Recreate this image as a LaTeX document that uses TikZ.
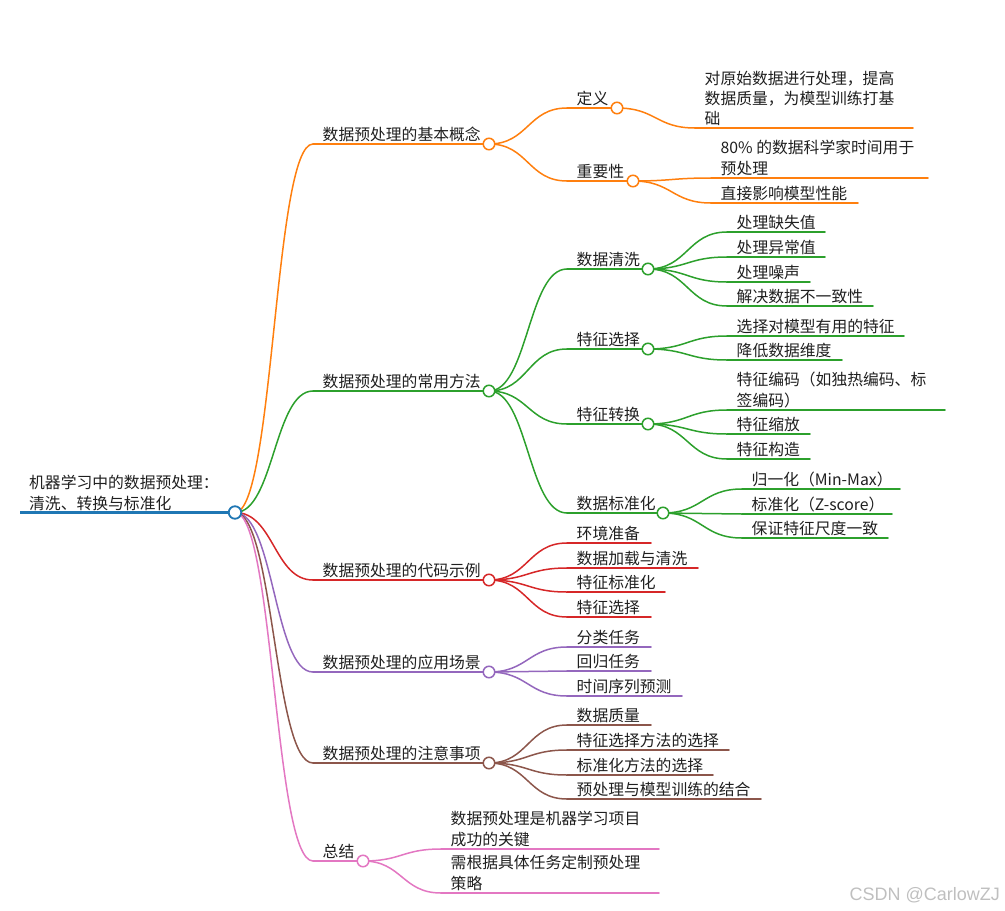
\documentclass[tikz,border=0pt]{standalone}
\usepackage{fontspec}
\newfontfamily\cjk{Noto Sans CJK SC}
\newfontfamily\wmfont{Liberation Sans}
\usetikzlibrary{calc}
\definecolor{cblue}{HTML}{1F77B4}
\definecolor{corange}{HTML}{FF7F0E}
\definecolor{cgreen}{HTML}{2CA02C}
\definecolor{cred}{HTML}{D62728}
\definecolor{cpurple}{HTML}{9467BD}
\definecolor{cbrown}{HTML}{8C564B}
\definecolor{cpink}{HTML}{E377C2}
\tikzset{
  lbl/.style={font=\cjk\fontsize{15.8}{20.5}\selectfont, text=black!88, inner sep=0pt, anchor=base west},
  br/.style={draw=#1, line width=1.5pt, line cap=round},
  dot/.style={circle, draw=#1, fill=white, line width=1.5pt, minimum size=11.5pt, inner sep=0pt},
  wm/.style={font=\wmfont\fontsize{18}{20}\selectfont, text=black!25, inner sep=0pt, anchor=base east},
}
\newcommand\mmlink[3]{\draw[br=#1] let \p1=(#2), \p2=(#3) in (\p1) .. controls ({(\x1+\x2)/2},\y1) and ({(\x1+\x2)/2},\y2) .. (\p2);}
% color, name, startx, y, endx, text
\newcommand\mmleaf[6]{\coordinate (#2s) at (#3,#4); \coordinate (#2e) at (#5,#4);
  \draw[br=#1] (#2s) -- (#2e); \node[lbl] (#2) at ($(#2s)+(9.5,-4)$) {#6};}
\newcommand\mmleafii[7]{\coordinate (#2s) at (#3,#4); \coordinate (#2e) at (#5,#4);
  \draw[br=#1] (#2s) -- (#2e); \node[lbl] (#2a) at ($(#2s)+(9.5,-24.5)$) {#6};
  \node[lbl] (#2b) at ($(#2s)+(9.5,-4)$) {#7};}
% color, name, startx, y, circlex, text
\newcommand\mmmid[6]{\coordinate (#2s) at (#3,#4); \coordinate (#2p) at (#5,#4);
  \draw[br=#1] (#2s) -- (#2p); \node[lbl] (#2) at ($(#2s)+(9.5,-4)$) {#6};}
\begin{document}
\begin{tikzpicture}[x=1pt,y=-1pt]
\useasboundingbox (0,0) rectangle (1005,911);
% root
\coordinate (rs) at (20,512.5);
\coordinate (rp) at (235,512.5);
\draw[draw=cblue, line width=2.4pt] (rs) -- (rp);
\node[lbl] (rt1) at (29,488) {机器学习中的数据预处理：};
\node[lbl] (rt2) at (29,509) {清洗、转换与标准化};

% level 1
\mmmid{corange}{a}{313}{144}{489}{数据预处理的基本概念}
\mmmid{cgreen}{b}{313}{391}{489}{数据预处理的常用方法}
\mmmid{cred}{c}{313}{580}{489}{数据预处理的代码示例}
\mmmid{cpurple}{d}{313}{672}{489}{数据预处理的应用场景}
\mmmid{cbrown}{e}{313}{763}{489}{数据预处理的注意事项}
\mmmid{cpink}{f}{313}{861}{363}{总结}
\mmlink{corange}{rp}{as}
\mmlink{cgreen}{rp}{bs}
\mmlink{cred}{rp}{cs}
\mmlink{cpurple}{rp}{ds}
\mmlink{cbrown}{rp}{es}
\mmlink{cpink}{rp}{fs}

% A: basic concepts
\mmmid{corange}{aa}{567}{108}{617}{定义}
\mmmid{corange}{ab}{567}{181}{633}{重要性}
\mmlink{corange}{ap}{aas}
\mmlink{corange}{ap}{abs}
\coordinate (aaas) at (695,128); \coordinate (aaae) at (913,128);
\draw[br=corange] (aaas) -- (aaae);
\node[lbl] (aaa1) at ($(aaas)+(9.5,-44)$) {对原始数据进行处理，提高};
\node[lbl] (aaa2) at ($(aaas)+(9.5,-24)$) {数据质量，为模型训练打基};
\node[lbl] (aaa3) at ($(aaas)+(9.5,-4)$) {础};
\mmlink{corange}{aap}{aaas}
\mmleafii{corange}{aba}{711}{178}{928}{80\% 的数据科学家时间用于}{预处理}
\mmleaf{corange}{abb}{711}{203}{858}{直接影响模型性能}
\mmlink{corange}{abp}{abas}
\mmlink{corange}{abp}{abbs}

% B: common methods
\mmmid{cgreen}{ba}{567}{269}{648}{数据清洗}
\mmmid{cgreen}{bb}{567}{349}{648}{特征选择}
\mmmid{cgreen}{bc}{567}{424}{648}{特征转换}
\mmmid{cgreen}{bd}{567}{513}{663}{数据标准化}
\mmlink{cgreen}{bp}{bas}
\mmlink{cgreen}{bp}{bbs}
\mmlink{cgreen}{bp}{bcs}
\mmlink{cgreen}{bp}{bds}
\mmleaf{cgreen}{baa}{727}{232}{825}{处理缺失值}
\mmleaf{cgreen}{bab}{727}{257}{825}{处理异常值}
\mmleaf{cgreen}{bac}{727}{282}{810}{处理噪声}
\mmleaf{cgreen}{bad}{727}{306}{873}{解决数据不一致性}
\mmlink{cgreen}{bap}{baas}
\mmlink{cgreen}{bap}{babs}
\mmlink{cgreen}{bap}{bacs}
\mmlink{cgreen}{bap}{bads}
\mmleaf{cgreen}{bba}{727}{336}{904}{选择对模型有用的特征}
\mmleaf{cgreen}{bbb}{727}{360}{842}{降低数据维度}
\mmlink{cgreen}{bbp}{bbas}
\mmlink{cgreen}{bbp}{bbbs}
\mmleafii{cgreen}{bca}{727}{410}{945}{特征编码（如独热编码、标}{签编码）}
\mmleaf{cgreen}{bcb}{727}{434}{810}{特征缩放}
\mmleaf{cgreen}{bcc}{727}{459}{810}{特征构造}
\mmlink{cgreen}{bcp}{bcas}
\mmlink{cgreen}{bcp}{bcbs}
\mmlink{cgreen}{bcp}{bccs}
\mmleaf{cgreen}{bda}{742}{489}{900}{归一化（Min-Max）}
\mmleaf{cgreen}{bdb}{742}{514}{892}{标准化（Z-score）}
\mmleaf{cgreen}{bdc}{742}{538}{888}{保证特征尺度一致}
\mmlink{cgreen}{bdp}{bdas}
\mmlink{cgreen}{bdp}{bdbs}
\mmlink{cgreen}{bdp}{bdcs}

% C: code examples
\mmleaf{cred}{ca}{567}{543}{651}{环境准备}
\mmleaf{cred}{cb}{567}{568}{698}{数据加载与清洗}
\mmleaf{cred}{cc}{567}{592}{665}{特征标准化}
\mmleaf{cred}{cd}{567}{617}{651}{特征选择}
\mmlink{cred}{cp}{cas}
\mmlink{cred}{cp}{cbs}
\mmlink{cred}{cp}{ccs}
\mmlink{cred}{cp}{cds}

% D: applications
\mmleaf{cpurple}{da}{567}{647}{651}{分类任务}
\mmleaf{cpurple}{db}{567}{671}{651}{回归任务}
\mmleaf{cpurple}{dc}{567}{696}{682}{时间序列预测}
\mmlink{cpurple}{dp}{das}
\mmlink{cpurple}{dp}{dbs}
\mmlink{cpurple}{dp}{dcs}

% E: notes
\mmleaf{cbrown}{ea}{567}{725}{651}{数据质量}
\mmleaf{cbrown}{eb}{567}{750}{729}{特征选择方法的选择}
\mmleaf{cbrown}{ec}{567}{775}{713}{标准化方法的选择}
\mmleaf{cbrown}{ed}{567}{799}{761}{预处理与模型训练的结合}
\mmlink{cbrown}{ep}{eas}
\mmlink{cbrown}{ep}{ebs}
\mmlink{cbrown}{ep}{ecs}
\mmlink{cbrown}{ep}{eds}

% F: summary
\mmleafii{cpink}{fa}{441}{849}{659}{数据预处理是机器学习项目}{成功的关键}
\mmleafii{cpink}{fb}{441}{893}{659}{需根据具体任务定制预处理}{策略}
\mmlink{cpink}{fp}{fas}
\mmlink{cpink}{fp}{fbs}

% circles on top
\node[dot=cblue, line width=1.8pt, minimum size=12.5pt] (rc) at (rp) {};
\node[dot=corange] (ac) at (ap) {};
\node[dot=cgreen] (bc) at (bp) {};
\node[dot=cred] (cc) at (cp) {};
\node[dot=cpurple] (dc) at (dp) {};
\node[dot=cbrown] (ec) at (ep) {};
\node[dot=cpink] (fc) at (fp) {};
\node[dot=corange] (aac) at (aap) {};
\node[dot=corange] (abc) at (abp) {};
\node[dot=cgreen] (bac) at (bap) {};
\node[dot=cgreen] (bbc) at (bbp) {};
\node[dot=cgreen] (bcc) at (bcp) {};
\node[dot=cgreen] (bdc) at (bdp) {};

% watermark
\node[wm] (wmk) at (1000,900) {CSDN @CarlowZJ};
\end{tikzpicture}
\end{document}
